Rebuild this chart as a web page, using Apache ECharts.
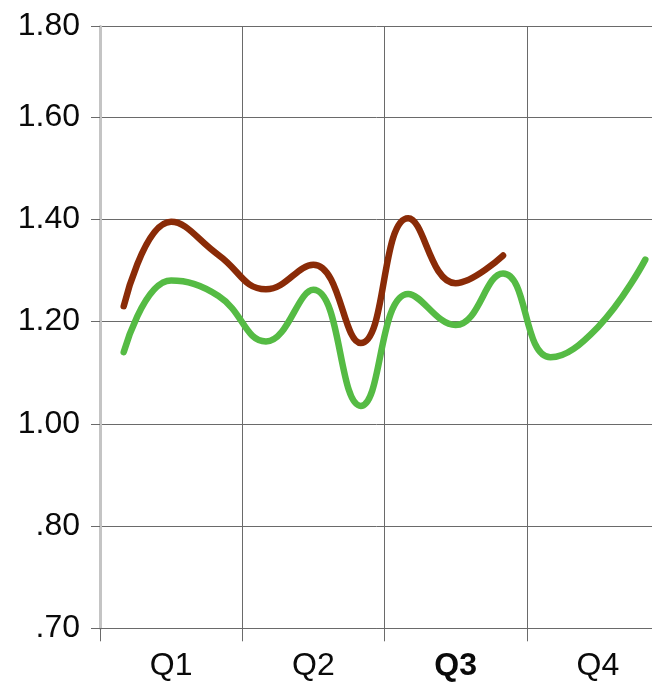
<!DOCTYPE html>
<html>
<head>
<meta charset="utf-8">
<script src="https://cdn.jsdelivr.net/npm/echarts@6/dist/echarts.min.js"></script>
<style>html,body{margin:0;padding:0;background:#fff}#c{width:652px;height:684px}</style>
</head>
<body>
<div id="c"></div>
<script>
const months = ['Jan','Feb','Mar','Apr','May','Jun','Jul','Aug','Sep','Oct','Nov','Dec'];
const quarterLabels = ['Q1','Q2','Q3','Q4'];
const yTickLabels = ['.70','.80','1.00','1.20','1.40','1.60','1.80'];
const brownValues = [1.23, 1.395, 1.33, 1.263, 1.311, 1.158, 1.402, 1.275, 1.329];
const greenValues = [1.14, 1.28, 1.25, 1.161, 1.262, 1.035, 1.254, 1.193, 1.294, 1.13, 1.189, 1.321];

const gridColor = '#6a6a6a';
const chart = echarts.init(document.getElementById('c'));
chart.setOption({
  animation: false,
  grid: { left: 100, width: 569, top: 26.5, height: 601.8, containLabel: false, outerBoundsMode: 'none' },
  xAxis: {
    type: 'category',
    data: months,
    boundaryGap: true,
    axisLine: { show: true, lineStyle: { color: gridColor, width: 1 } },
    axisTick: { show: true, length: 13, interval: (i) => i % 3 === 0, lineStyle: { color: gridColor } },
    splitLine: { show: true, interval: (i) => i % 3 === 0, lineStyle: { color: gridColor, width: 1 } },
    axisLabel: {
      interval: (i) => i % 3 === 1,
      margin: 22,
      fontSize: 32,
      fontFamily: 'Liberation Sans',
      color: '#0a0a0a',
      formatter: (v, i) => {
        const q = quarterLabels[Math.floor(i / 3)];
        return q === 'Q3' ? '{b|' + q + '}' : q;
      },
      rich: { b: { fontWeight: 'bold', fontSize: 32, fontFamily: 'Liberation Sans', color: '#0a0a0a' } }
    }
  },
  yAxis: {
    type: 'value',
    min: 0.6,
    max: 1.777,
    interval: 0.2,
    axisLine: { show: true, lineStyle: { color: '#c4c4c4', width: 3 } },
    axisTick: { show: true, length: 9, lineStyle: { color: gridColor } },
    splitLine: { show: true, lineStyle: { color: gridColor, width: 1 } },
    axisLabel: {
      margin: 20,
      fontSize: 32,
      fontFamily: 'Liberation Sans',
      color: '#0a0a0a',
      showMaxLabel: true,
      showMinLabel: true,
      formatter: (v, i) => yTickLabels[i] !== undefined ? yTickLabels[i] : ''
    }
  },
  series: [
    {
      type: 'line',
      data: brownValues,
      smooth: 0.45,
      showSymbol: false,
      lineStyle: { color: '#8a2b07', width: 6.5, cap: 'round' },
      z: 3
    },
    {
      type: 'line',
      data: greenValues,
      smooth: 0.45,
      showSymbol: false,
      lineStyle: { color: '#55bb44', width: 6.5, cap: 'round' },
      z: 2
    }
  ]
});
</script>
</body>
</html>
